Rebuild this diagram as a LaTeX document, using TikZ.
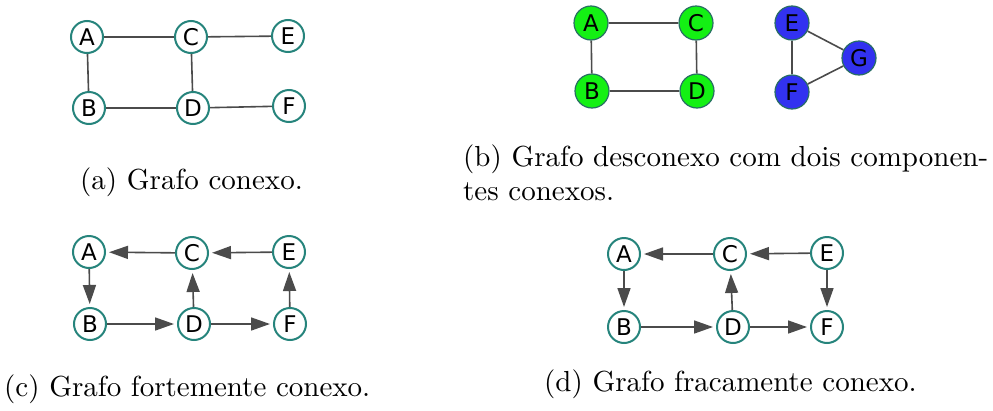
\documentclass[tikz,border=0pt]{standalone}
\usepackage{fontspec}
\newfontfamily\nodefont{DejaVu Sans}
\newfontfamily\capfont{lmroman10-regular.otf}
\usetikzlibrary{arrows.meta}
\definecolor{ring}{RGB}{38,132,124}
\definecolor{ringdark}{RGB}{40,110,100}
\definecolor{edgegray}{RGB}{75,75,75}
\definecolor{vgreen}{RGB}{20,240,20}
\definecolor{vblue}{RGB}{50,50,240}
\tikzset{
  vertex/.style={circle, draw=ring, line width=2pt, fill=white, minimum size=32pt,
    inner sep=0pt, font=\nodefont\fontsize{23}{23}\selectfont},
  gvertex/.style={vertex, draw=ringdark, line width=1.2pt, fill=vgreen, minimum size=34pt},
  bvertex/.style={gvertex, fill=vblue},
  link/.style={draw=edgegray, line width=1.6pt},
  arc/.style={link, -{Triangle[length=19pt,width=13pt]}, shorten >=3pt},
  caption/.style={anchor=base west, inner sep=0pt, font=\capfont\fontsize{29}{34.8}\selectfont},
}
\begin{document}
\begin{tikzpicture}[x=1pt,y=-1pt]
\useasboundingbox (0,0) rectangle (993,410);

% (a) connected graph
\node[vertex] (aA) at (87,37) {A};
\node[vertex] (aC) at (191,37) {C};
\node[vertex] (aE) at (288,36) {E};
\node[vertex] (aB) at (89,108) {B};
\node[vertex] (aD) at (193,108) {D};
\node[vertex] (aF) at (289,106) {F};
\draw[link] (aA) -- (aC);
\draw[link] (aC) -- (aE);
\draw[link] (aA) -- (aB);
\draw[link] (aC) -- (aD);
\draw[link] (aB) -- (aD);
\draw[link] (aD) -- (aF);
\node[caption] (capa) at (80,189) {(a) Grafo conexo.};

% (b) disconnected graph with two components
\node[gvertex] (bA) at (591,23) {A};
\node[gvertex] (bC) at (696,23) {C};
\node[gvertex] (bB) at (592,91) {B};
\node[gvertex] (bD) at (697,91) {D};
\node[bvertex] (bE) at (792,23) {E};
\node[bvertex] (bG) at (859,58) {G};
\node[bvertex] (bF) at (792,92) {F};
\draw[link] (bA) -- (bC);
\draw[link] (bA) -- (bB);
\draw[link] (bC) -- (bD);
\draw[link] (bB) -- (bD);
\draw[link] (bE) -- (bG);
\draw[link] (bE) -- (bF);
\draw[link] (bF) -- (bG);
\node[caption] (capb1) at (463,166) {(b) Grafo desconexo com dois componen-};
\node[caption] (capb2) at (463,200) {tes conexos.};

% (c) strongly connected digraph
\node[vertex] (cA) at (89,252) {A};
\node[vertex] (cC) at (192,253) {C};
\node[vertex] (cE) at (289,252) {E};
\node[vertex] (cB) at (90,324) {B};
\node[vertex] (cD) at (194,324) {D};
\node[vertex] (cF) at (290,324) {F};
\draw[arc] (cC) -- (cA);
\draw[arc] (cE) -- (cC);
\draw[arc] (cA) -- (cB);
\draw[arc] (cB) -- (cD);
\draw[arc] (cD) -- (cF);
\draw[arc] (cD) -- (cC);
\draw[arc] (cF) -- (cE);
\node[caption] (capc) at (4,396) {(c) Grafo fortemente conexo.};

% (d) weakly connected digraph
\node[vertex] (dA) at (624,254) {A};
\node[vertex] (dC) at (730,254) {C};
\node[vertex] (dE) at (827,253) {E};
\node[vertex] (dB) at (624,327) {B};
\node[vertex] (dD) at (733,327) {D};
\node[vertex] (dF) at (827,327) {F};
\draw[arc] (dC) -- (dA);
\draw[arc] (dE) -- (dC);
\draw[arc] (dA) -- (dB);
\draw[arc] (dB) -- (dD);
\draw[arc] (dD) -- (dF);
\draw[arc] (dD) -- (dC);
\draw[arc] (dE) -- (dF);
\node[caption] (capd) at (544,391) {(d) Grafo fracamente conexo.};
\end{tikzpicture}
\end{document}
